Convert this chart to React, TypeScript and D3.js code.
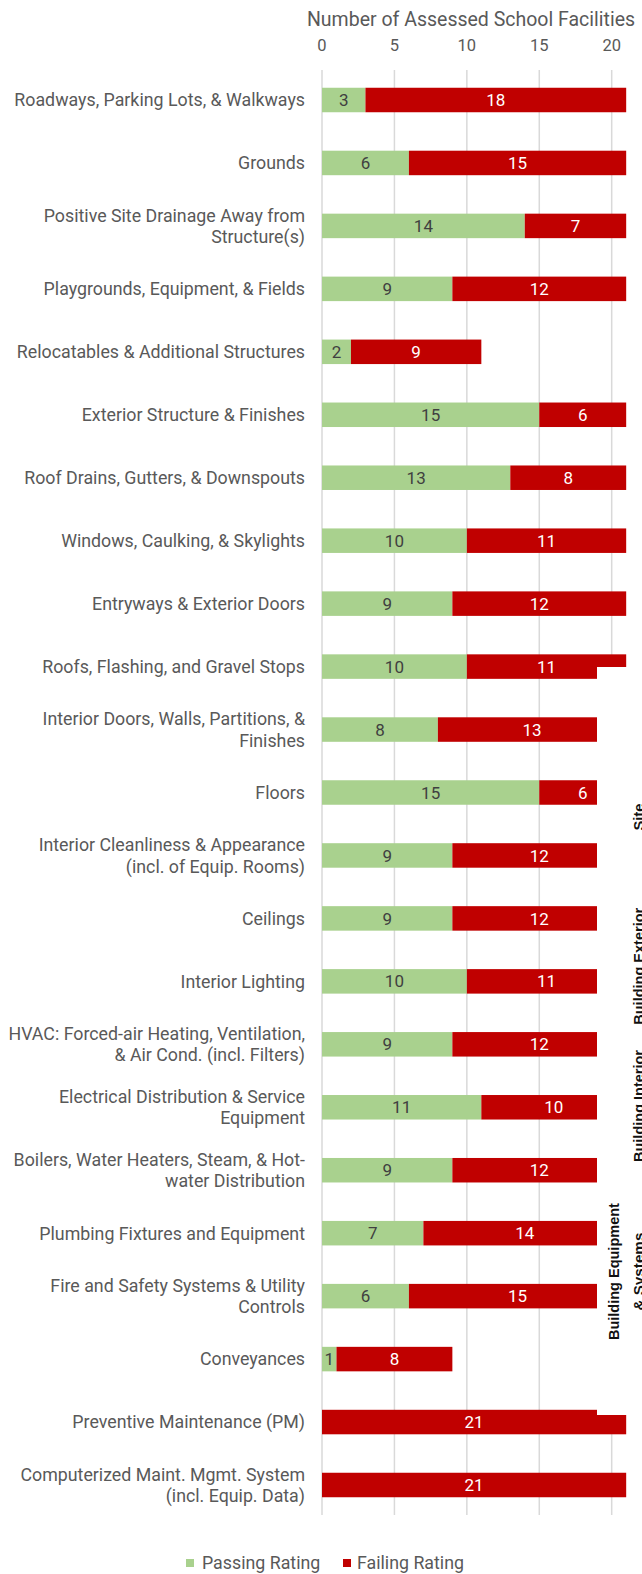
import React from "react";
import * as d3 from "d3";

const categories: string[] = [
  "Roadways, Parking Lots, & Walkways",
  "Grounds",
  "Positive Site Drainage Away from\nStructure(s)",
  "Playgrounds, Equipment, & Fields",
  "Relocatables & Additional Structures",
  "Exterior Structure & Finishes",
  "Roof Drains, Gutters, & Downspouts",
  "Windows, Caulking, & Skylights",
  "Entryways & Exterior Doors",
  "Roofs, Flashing, and Gravel Stops",
  "Interior Doors, Walls, Partitions, &\nFinishes",
  "Floors",
  "Interior Cleanliness & Appearance\n(incl. of Equip. Rooms)",
  "Ceilings",
  "Interior Lighting",
  "HVAC: Forced-air Heating, Ventilation,\n& Air Cond. (incl. Filters)",
  "Electrical Distribution & Service\nEquipment",
  "Boilers, Water Heaters, Steam, & Hot-\nwater Distribution",
  "Plumbing Fixtures and Equipment",
  "Fire and Safety Systems & Utility\nControls",
  "Conveyances",
  "Preventive Maintenance (PM)",
  "Computerized Maint. Mgmt. System\n(incl. Equip. Data)",
];

const passing: number[] = [3, 6, 14, 9, 2, 15, 13, 10, 9, 10, 8, 15, 9, 9, 10, 9, 11, 9, 7, 6, 1, 0, 0];
const failing: number[] = [18, 15, 7, 12, 9, 6, 8, 11, 12, 11, 13, 6, 12, 12, 11, 12, 10, 12, 14, 15, 8, 21, 21];

const xTicks: number[] = [0, 5, 10, 15, 20];
const axisTitle = "Number of Assessed School Facilities";
const seriesNames: string[] = ["Passing Rating", "Failing Rating"];

// Overlapping group labels (partially hidden, as in the source image)
const groupNames: string[][] = [["Site"], ["Building Exterior"], ["Building Interior"], ["Building Equipment", "& Systems"]];
const groupRowPos: number[] = [11.39, 13.76, 15.98, 18.61];
const groupLens: number[][] = [[27], [117], [112], [137, 78]];

const GREEN = "#a9d18e";
const RED = "#c00000";
const GRAY = "#595959";
const FONT = "Roboto, 'Liberation Sans', sans-serif";

export default function App() {
  const W = 642;
  const H = 1574;
  const x = d3.scaleLinear().domain([0, 20]).range([322, 611.7]);
  const rowY = d3.scaleLinear().domain([0, categories.length - 1]).range([100, 1485]);
  const barH = 24.5;

  return (
    <svg
      width={W}
      height={H}
      style={{ position: "absolute", left: 0, top: 0, background: "#fff" }}
      fontFamily={FONT}
    >
      <rect x={0} y={0} width={W} height={H} fill="#fff" />
      {/* title */}
      <text x={471} y={26} textAnchor="middle" fontSize={19.5} fill={GRAY}>
        {axisTitle}
      </text>
      {/* ticks */}
      {xTicks.map((t) => (
        <text key={"t" + t} x={x(t)} y={51} textAnchor="middle" fontSize={16.5} fill={GRAY}>
          {t}
        </text>
      ))}
      {/* gridlines */}
      {xTicks.map((t) => (
        <line key={"g" + t} x1={x(t)} x2={x(t)} y1={70} y2={1515} stroke="#d9d9d9" strokeWidth={1.5} />
      ))}
      {/* bars */}
      {categories.map((c, i) => {
        const cy = rowY(i);
        const p = passing[i];
        const f = failing[i];
        return (
          <g key={"b" + i}>
            {p > 0 && (
              <rect x={x(0)} y={cy - barH / 2} width={x(p) - x(0)} height={barH} fill={GREEN} />
            )}
            {f > 0 && (
              <rect x={x(p)} y={cy - barH / 2} width={x(p + f) - x(p)} height={barH} fill={RED} />
            )}
            {p > 0 && (
              <text x={x(p / 2)} y={cy} dy="0.36em" textAnchor="middle" fontSize={17} fill="#404040">
                {p}
              </text>
            )}
            {f > 0 && (
              <text x={x(p + f / 2)} y={cy} dy="0.36em" textAnchor="middle" fontSize={17} fill="#fff">
                {f}
              </text>
            )}
          </g>
        );
      })}
      {/* category labels */}
      {categories.map((c, i) => {
        const lines = c.split("\n");
        const cy = rowY(i);
        const lh = 21.5;
        const start = cy - ((lines.length - 1) * lh) / 2;
        return (
          <text key={"l" + i} x={305} textAnchor="end" fontSize={17.8} fill={GRAY}>
            {lines.map((ln, k) => (
              <tspan key={k} x={305} y={start + k * lh} dy="0.36em">
                {ln}
              </tspan>
            ))}
          </text>
        );
      })}
      {/* white overlay panel */}
      <rect x={597} y={667} width={W - 597} height={1415 - 667} fill="#fff" />
      {groupNames.map((g, gi) => {
        const cy = rowY(groupRowPos[gi]);
        const n = g.length;
        return (
          <g key={"grp" + gi}>
            {g.map((ln, k) => {
              const bx = 644 - (n - 1 - k) * 25;
              return (
                <text
                  key={k}
                  transform={`translate(${bx},${cy}) rotate(-90)`}
                  textAnchor="middle"
                  fontSize={15}
                  fontWeight="bold"
                  fontFamily="'Liberation Sans', Arial, sans-serif"
                  fill="#111"
                  textLength={groupLens[gi][k]}
                  lengthAdjust="spacingAndGlyphs"
                >
                  {ln}
                </text>
              );
            })}
          </g>
        );
      })}
      {/* legend */}
      <rect x={186} y={1559} width={8} height={8} fill={GREEN} />
      <text x={202} y={1563} dy="0.36em" fontSize={17.8} fill={GRAY}>
        {seriesNames[0]}
      </text>
      <rect x={343} y={1559} width={8} height={8} fill={RED} />
      <text x={357} y={1563} dy="0.36em" fontSize={17.8} fill={GRAY}>
        {seriesNames[1]}
      </text>
    </svg>
  );
}
